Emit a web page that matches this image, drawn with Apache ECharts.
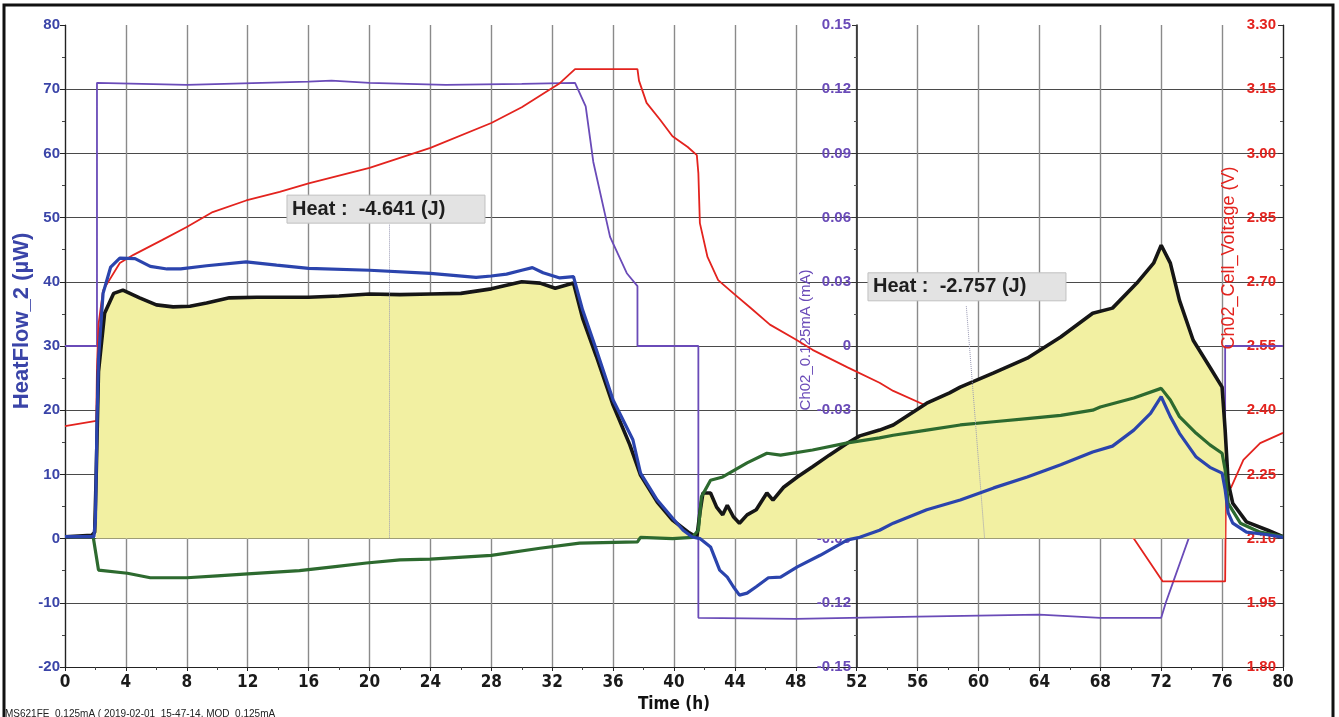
<!DOCTYPE html>
<html>
<head>
<meta charset="utf-8">
<title>HeatFlow_2</title>
<script src="https://cdn.jsdelivr.net/npm/echarts@6/dist/echarts.min.js"></script>
<style>
  html, body { margin: 0; padding: 0; background: #fff; }
  #chart { width: 1339px; height: 717px; }
</style>
</head>
<body>
<div id="chart"></div>
<script>
// time (h) / value pairs
var blueHeatFlow = [[0,0.3],[1.9,0.3],[2.0,3],[2.1,18],[2.2,28],[2.5,38.2],[3.0,42.3],[3.6,43.7],[4.6,43.6],[5.6,42.4],[6.7,42.0],[7.6,42.0],[9.3,42.5],[11.9,43.1],[13.9,42.6],[16,42.1],[20,41.8],[24,41.3],[27,40.7],[28,40.9],[29,41.2],[30,41.8],[30.7,42.2],[31.4,41.4],[32.5,40.6],[33.4,40.8],[34.0,35.6],[34.9,29.4],[36.0,21.6],[37.3,15.4],[37.8,10.2],[38.9,6.0],[39.9,3.2],[40.6,1.3],[41.2,0.25],[41.7,0],[42.4,-1.3],[43.0,-4.9],[43.5,-6.0],[43.9,-7.5],[44.3,-8.8],[44.8,-8.5],[45.4,-7.5],[46.2,-6.1],[47.0,-6.0],[48.1,-4.4],[49.6,-2.6],[51.4,-0.2],[52.2,0.2],[53.5,1.3],[54.4,2.4],[56.6,4.5],[58.8,6.0],[61.0,7.9],[63.2,9.6],[65.4,11.5],[67.5,13.5],[68.8,14.4],[70.2,16.9],[71.3,19.5],[72.0,22.1],[72.6,19.0],[73.2,16.4],[74.3,12.7],[75.2,11.1],[76.0,10.2],[76.2,7.6],[76.4,4.0],[76.7,2.4],[77.6,1.0],[79.0,0.6],[80,0.2]];

var blackHeatFlow = [[0,0.3],[1.75,0.5],[1.95,1],[2.05,10],[2.2,26],[2.6,35.1],[3.2,38.2],[3.8,38.7],[4.9,37.5],[6.0,36.4],[7.1,36.1],[8.2,36.2],[9.3,36.7],[10.8,37.5],[12.6,37.6],[13.9,37.6],[16,37.6],[18,37.8],[20,38.1],[22,38.0],[24,38.1],[26,38.2],[28,38.9],[30,40.0],[31.2,39.8],[32.2,39.0],[33.4,39.8],[34.0,34.3],[34.9,28.4],[36.0,20.8],[37.1,14.6],[37.8,9.9],[38.9,5.7],[39.9,2.9],[41.0,0.9],[41.5,0.2],[41.7,4],[41.9,7.1],[42.4,7.1],[42.8,4.9],[43.2,3.7],[43.5,5.2],[43.9,3.4],[44.3,2.4],[44.8,3.7],[45.4,4.5],[46.1,7.1],[46.5,6.0],[47.2,8.0],[48.1,9.6],[49.1,11.2],[50.2,13.0],[51.4,14.9],[52.2,16.0],[53.5,16.9],[54.4,17.7],[56.6,21.1],[58.1,22.7],[58.8,23.6],[61.0,25.8],[63.2,28.1],[65.4,31.4],[67.5,35.1],[68.8,35.9],[70.4,39.8],[71.5,42.9],[72.0,45.7],[72.6,42.9],[73.2,37.1],[74.1,30.9],[75.2,26.7],[76.0,23.6],[76.2,16.9],[76.4,8.7],[76.7,5.5],[77.6,2.6],[79.0,1.3],[80,0.3]];

var greenHeatFlow = [[0,0.3],[1.85,0.3],[2.2,-4.9],[4.1,-5.4],[5.6,-6.1],[8.0,-6.1],[10.0,-5.8],[12.0,-5.5],[15.4,-5.0],[17.6,-4.4],[19.8,-3.8],[22.0,-3.3],[24,-3.2],[28,-2.6],[31.2,-1.5],[33.8,-0.7],[37.6,-0.5],[37.8,0.2],[39.9,0],[41.2,0.2],[41.6,1.3],[41.8,6.5],[42.4,9.1],[43.2,9.6],[44.0,10.7],[44.8,11.8],[46.1,13.3],[47.0,13.0],[49.1,13.8],[51.4,14.9],[53.5,15.7],[54.4,16.1],[56.6,16.9],[58.8,17.7],[61.0,18.2],[63.2,18.7],[65.4,19.2],[67.5,20.0],[68.0,20.5],[70.2,21.9],[72.0,23.4],[72.6,21.6],[73.2,19.0],[74.3,16.4],[75.2,14.6],[76.0,13.3],[76.2,10.7],[76.4,5.5],[77.2,2.4],[78.5,1.0],[80,0.3]];

var currentMA = [[0,0],[2.1,0],[2.1,0.123],[8,0.122],[16,0.1235],[17.5,0.124],[20,0.123],[25,0.122],[30,0.1225],[33.5,0.123],[34.2,0.112],[34.7,0.086],[35.8,0.051],[36.9,0.034],[37.6,0.028],[37.6,0],[41.6,0],[41.6,-0.127],[48,-0.1275],[56,-0.1265],[64,-0.1255],[68,-0.127],[72.0,-0.127],[72.3,-0.12],[72.8,-0.11],[73.3,-0.1],[73.8,-0.09],[74.8,-0.078],[76.2,-0.068],[76.2,0],[80,0]];

var cellVoltage = [[0,2.363],[2.05,2.375],[2.1,2.5],[2.2,2.6],[2.5,2.68],[3.6,2.744],[4.5,2.763],[6.4,2.798],[8.0,2.828],[9.7,2.863],[11.9,2.89],[14.1,2.91],[16,2.93],[20,2.966],[24,3.013],[28,3.071],[30,3.108],[32,3.153],[32.5,3.164],[33.5,3.197],[37.6,3.197],[37.7,3.17],[38.2,3.118],[39.1,3.078],[39.9,3.04],[40.9,3.015],[41.5,2.996],[41.6,2.954],[41.7,2.837],[42.2,2.758],[42.9,2.704],[44,2.67],[45,2.64],[46.3,2.60],[48,2.565],[49.1,2.541],[51.4,2.50],[53.5,2.464],[54.4,2.445],[56.8,2.407],[60,2.35],[64,2.27],[68,2.17],[70.2,2.10],[72.1,2.0],[76.2,2.0],[76.25,2.21],[76.6,2.22],[77.4,2.284],[78.5,2.323],[80,2.347]];

// integration window of the shaded heat area
var fillStart = 2.0;
var fillEnd = 76.2;

var heatLabels = ['Heat :  -4.641 (J)', 'Heat :  -2.757 (J)'];
var heatBoxX = [14.58, 52.74];
var heatBoxY = [53.5, 41.4];
var heatLeaders = [[[21.3, 48.9], [21.3, 0]], [[59.2, 36.2], [60.4, 0]]];

var narrowFont = '"Liberation Sans Narrow", "Arial Narrow", "DejaVu Sans Condensed", sans-serif';
var sansFont = '"Liberation Sans", Arial, sans-serif';

var BLUE = '#2b44ad', BLACK = '#161616', GREEN = '#2d6a2f',
    PURPLE = '#6a4bb8', RED = '#e3231e', YELLOW = '#f2f0a2';

var fillData = blackHeatFlow.filter(function (p) { return p[0] >= fillStart && p[0] <= fillEnd; });

var chart = echarts.init(document.getElementById('chart'));

var option = {
  animation: false,
  backgroundColor: '#fff',
  grid: { left: 65, right: 56, top: 25, bottom: 50, containLabel: false, outerBoundsMode: 'none' },
  xAxis: {
    type: 'value', min: 0, max: 80, interval: 4,
    name: 'Time (h)', nameLocation: 'middle', nameGap: 27,
    nameTextStyle: { fontFamily: narrowFont, fontWeight: 'bold', fontSize: 17, color: '#111' },
    axisLine: { show: true, onZero: false, lineStyle: { color: '#222', width: 1.2 } },
    axisTick: { show: true, length: 4, lineStyle: { color: '#222' } },
    minorTick: { show: true, splitNumber: 2, length: 3, lineStyle: { color: '#444' } },
    axisLabel: { fontFamily: narrowFont, fontWeight: 'bold', fontSize: 17, color: '#1a1a1a', margin: 7 },
    splitLine: { show: true, lineStyle: { color: '#8a8a8a', width: 1.4 } }
  },
  yAxis: [
    {
      type: 'value', position: 'left', min: -20, max: 80, interval: 10,
      axisLine: { show: true, onZero: false, lineStyle: { color: '#222', width: 1.2 } },
      axisTick: { show: true, length: 5, lineStyle: { color: '#222' } },
      minorTick: { show: true, splitNumber: 2, length: 3, lineStyle: { color: '#444' } },
      axisLabel: { fontFamily: sansFont, fontWeight: 'bold', fontSize: 15, color: '#3a44a8', margin: 5 },
      splitLine: { show: true, showMaxLine: false, lineStyle: { color: '#4a4a4a', width: 1 } }
    },
    {
      type: 'value', position: 'right', offset: -426, min: -0.15, max: 0.15, interval: 0.03,
      axisLine: { show: true, onZero: false, lineStyle: { color: '#222', width: 1.5 } },
      axisTick: { show: true, inside: true, length: 5, lineStyle: { color: '#333' } },
      minorTick: { show: true, splitNumber: 2, length: 3, lineStyle: { color: '#555' } },
      axisLabel: {
        inside: true, margin: 6, fontFamily: sansFont, fontWeight: 'bold', fontSize: 15, color: PURPLE,
        formatter: function (v) { return Math.abs(v) < 1e-9 ? '0' : v.toFixed(2); }
      },
      splitLine: { show: false }
    },
    {
      type: 'value', position: 'right', offset: 0, min: 1.8, max: 3.3, interval: 0.15,
      axisLine: { show: true, onZero: false, lineStyle: { color: '#222', width: 1.2 } },
      axisTick: { show: true, inside: true, length: 5, lineStyle: { color: '#333' } },
      minorTick: { show: true, splitNumber: 2, length: 3, lineStyle: { color: '#555' } },
      axisLabel: {
        inside: true, margin: 7, fontFamily: sansFont, fontWeight: 'bold', fontSize: 15, color: RED,
        formatter: function (v) { return v.toFixed(2); }
      },
      splitLine: { show: false }
    }
  ],
  series: [
    {
      name: 'Ch02_0.125mA', type: 'line', yAxisIndex: 1, data: currentMA,
      showSymbol: false, z: 1, lineStyle: { color: PURPLE, width: 1.8 }
    },
    {
      name: 'Ch02_Cell_Voltage', type: 'line', yAxisIndex: 2, data: cellVoltage,
      showSymbol: false, z: 1, lineStyle: { color: RED, width: 1.8 }
    },
    {
      name: 'Heat area', type: 'line', yAxisIndex: 0, data: fillData,
      showSymbol: false, z: 2, lineStyle: { width: 0, opacity: 0 },
      areaStyle: { color: YELLOW, opacity: 1 },
      markLine: {
        silent: true, symbol: ['none', 'none'], animation: false,
        label: { show: false },
        lineStyle: { type: 'dotted', color: '#9a9ab4', width: 1 },
        data: heatLeaders.map(function (l) { return [{ coord: l[0] }, { coord: l[1] }]; })
      }
    },
    {
      name: 'HeatFlow black', type: 'line', yAxisIndex: 0, data: blackHeatFlow,
      showSymbol: false, z: 3, lineStyle: { color: BLACK, width: 3.6 }
    },
    {
      name: 'HeatFlow green', type: 'line', yAxisIndex: 0, data: greenHeatFlow,
      showSymbol: false, z: 4, lineStyle: { color: GREEN, width: 3.2 }
    },
    {
      name: 'HeatFlow_2', type: 'line', yAxisIndex: 0, data: blueHeatFlow,
      showSymbol: false, z: 5, lineStyle: { color: BLUE, width: 3.2 }
    }
  ]
};

chart.setOption(option);

// annotation boxes placed through the axes, plus frame and axis titles
var graphics = [
  {
    type: 'rect', z: 200, silent: true,
    shape: { x: 4, y: 5, width: 1329, height: 730 },
    style: { fill: 'none', stroke: '#111', lineWidth: 3 }
  },
  {
    type: 'text', z: 100, x: 22, y: 321, rotation: Math.PI / 2,
    style: { text: 'HeatFlow_2 (µW)', fontFamily: sansFont, fontWeight: 'bold', fontSize: 22,
             fill: '#3a44a8', align: 'center', verticalAlign: 'middle' }
  },
  {
    type: 'text', z: 1, x: 806, y: 340, rotation: Math.PI / 2,
    style: { text: 'Ch02_0.125mA (mA)', fontFamily: sansFont, fontSize: 15,
             fill: PURPLE, align: 'center', verticalAlign: 'middle' }
  },
  {
    type: 'text', z: 100, x: 1229, y: 258, rotation: Math.PI / 2,
    style: { text: 'Ch02_Cell_Voltage (V)', fontFamily: sansFont, fontSize: 18,
             fill: RED, align: 'center', verticalAlign: 'middle' }
  },
  {
    type: 'text', z: 100, x: 5, y: 709,
    style: { text: 'MS621FE_0.125mA ( 2019-02-01  15-47-14, MOD_0.125mA', fontFamily: sansFont,
             fontSize: 10, fill: '#222', align: 'left', verticalAlign: 'top' }
  }
];

for (var i = 0; i < heatLabels.length; i++) {
  var p = chart.convertToPixel({ xAxisIndex: 0, yAxisIndex: 0 }, [heatBoxX[i], heatBoxY[i]]);
  graphics.push({
    type: 'rect', z: 100, silent: true,
    shape: { x: p[0], y: p[1], width: 198, height: 28 },
    style: { fill: '#e3e3e3', stroke: '#c0c0c0', lineWidth: 1 }
  });
  graphics.push({
    type: 'text', z: 101, silent: true, x: p[0] + 5, y: p[1] + 14,
    style: { text: heatLabels[i], fontFamily: sansFont, fontWeight: 'bold', fontSize: 20,
             fill: '#1e1e1e', align: 'left', verticalAlign: 'middle' }
  });
}

chart.setOption({ graphic: graphics });
</script>
</body>
</html>
